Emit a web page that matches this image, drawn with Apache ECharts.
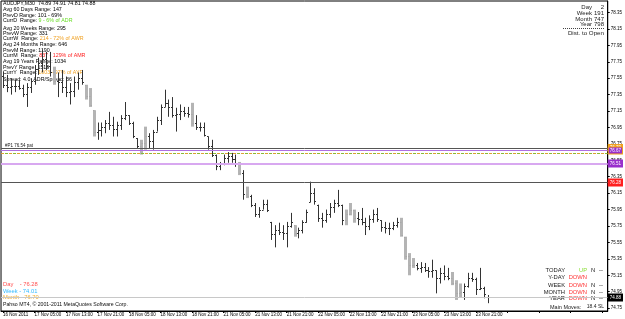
<!DOCTYPE html>
<html><head><meta charset="utf-8">
<script src="https://cdn.jsdelivr.net/npm/echarts@6/dist/echarts.min.js"></script>
<style>html,body{margin:0;padding:0;background:#fff;overflow:hidden}#c{width:625px;height:319px}</style>
</head><body><div id="c"></div>
<script>
// ---- data ----
const sessions = [['16 Nov',21,23],['17 Nov',0,23],['18 Nov',0,23],['21 Nov',0,23],['22 Nov',0,23],['23 Nov',0,23],['24 Nov',0,0]];
const xTickLabels = ['16 Nov 2011','17 Nov 05:00','17 Nov 13:00','17 Nov 21:00','18 Nov 05:00','18 Nov 13:00','18 Nov 21:00','21 Nov 05:00','21 Nov 13:00','21 Nov 21:00','22 Nov 05:00','22 Nov 13:00','22 Nov 21:00','23 Nov 05:00','23 Nov 13:00','23 Nov 21:00'];
const yTicks = [74.75,74.95,75.15,75.35,75.55,75.75,75.95,76.15,76.35,76.55,76.75,76.95,77.15,77.35,77.55,77.75,77.95,78.15,78.35];
const openP = [77.58,77.47,77.44,77.45,77.46,77.43,77.36,77.44,77.52,77.66,
77.74,77.78,77.70,77.62,77.52,77.50,77.44,77.38,77.40,77.50,
77.55,77.47,77.33,77.16,76.90,76.92,76.95,77.00,76.98,76.93,
76.98,77.06,77.10,77.00,76.82,76.73,76.76,76.85,76.78,76.90,
77.04,77.20,77.25,77.20,77.10,77.12,77.15,77.13,77.12,77.00,
76.95,76.96,76.84,76.72,76.62,76.48,76.50,76.58,76.60,76.57,
76.50,76.40,76.14,76.12,76.00,75.90,75.95,76.02,75.80,75.65,
75.70,75.68,75.66,75.75,75.76,75.66,75.70,75.80,76.04,76.15,
76.01,75.85,75.82,75.90,75.98,76.03,76.00,75.82,75.90,75.95,
75.85,75.84,75.80,75.75,75.84,75.90,75.82,75.74,75.72,75.73,
75.76,75.80,75.62,75.38,75.28,75.27,75.24,75.25,75.22,75.20,
75.21,75.12,75.18,75.14,75.12,75.06,74.93,74.95,75.02,75.12,
75.10,74.98,75.00,74.89];
const highP = [77.63,77.59,77.55,77.53,77.53,77.47,77.49,77.55,77.71,77.80,
77.90,77.87,77.87,77.69,77.62,77.65,77.57,77.49,77.57,77.62,
77.65,77.47,77.43,77.16,77.01,77.01,77.04,77.14,77.08,77.02,
77.10,77.26,77.10,77.02,76.82,76.80,76.96,76.88,76.92,77.08,
77.23,77.41,77.29,77.32,77.19,77.23,77.20,77.20,77.25,77.10,
77.01,77.01,76.84,76.80,76.62,76.53,76.62,76.65,76.64,76.62,
76.53,76.43,76.23,76.13,76.03,75.98,76.07,76.07,75.80,75.76,
75.79,75.76,75.80,75.91,75.76,75.73,75.82,75.95,76.29,76.21,
76.01,75.91,75.95,76.03,76.07,76.19,76.01,75.95,76.03,75.95,
75.92,75.97,75.85,75.88,75.95,75.97,75.82,75.80,75.79,75.80,
75.85,75.85,75.62,75.42,75.36,75.30,75.31,75.30,75.25,75.34,
75.21,75.24,75.27,75.24,75.19,75.09,75.05,75.05,75.18,75.18,
75.12,75.24,75.01,74.91];
const lowP = [77.43,77.38,77.35,77.38,77.41,77.32,77.20,77.37,77.47,77.59,
77.62,77.65,77.57,77.47,77.32,77.37,77.32,77.23,77.32,77.41,
77.47,77.29,77.20,76.84,76.80,76.84,76.88,76.92,76.84,76.84,
76.92,77.04,76.98,76.82,76.70,76.62,76.68,76.70,76.68,76.90,
76.98,77.20,77.08,77.07,76.90,77.04,77.08,77.07,76.96,76.92,
76.90,76.84,76.68,76.59,76.43,76.43,76.49,76.52,76.52,76.47,
76.37,76.07,76.09,75.98,75.86,75.85,75.95,75.92,75.58,75.49,
75.64,75.58,75.49,75.73,75.62,75.60,75.66,75.79,76.04,76.01,
75.80,75.73,75.79,75.85,75.91,75.98,75.76,75.76,75.88,75.79,
75.76,75.76,75.64,75.70,75.79,75.80,75.68,75.66,75.64,75.70,
75.73,75.62,75.34,75.15,75.24,75.21,75.18,75.19,75.12,75.12,
74.93,75.05,75.09,75.09,75.03,74.85,74.88,74.85,75.00,75.07,
74.91,74.97,74.87,74.81];
const closeP = [77.47,77.44,77.45,77.46,77.43,77.36,77.44,77.52,77.66,77.74,
77.78,77.70,77.62,77.52,77.50,77.44,77.38,77.40,77.50,77.55,
77.50,77.33,77.22,76.90,76.92,76.95,77.00,76.98,76.93,76.98,
77.06,77.10,77.00,76.85,76.73,76.76,76.85,76.78,76.90,77.04,
77.20,77.25,77.20,77.10,77.12,77.15,77.13,77.12,77.00,76.95,
76.96,76.86,76.72,76.62,76.48,76.50,76.58,76.60,76.57,76.50,
76.40,76.14,76.12,76.00,75.90,75.95,76.02,75.95,75.65,75.70,
75.68,75.66,75.75,75.80,75.66,75.70,75.80,75.92,76.15,76.05,
75.85,75.82,75.90,75.98,76.03,76.00,75.82,75.90,75.95,75.85,
75.84,75.80,75.75,75.84,75.90,75.83,75.74,75.72,75.73,75.76,
75.80,75.64,75.38,75.28,75.27,75.24,75.25,75.22,75.20,75.22,
75.12,75.18,75.14,75.12,75.06,74.93,74.95,75.02,75.12,75.10,
74.98,75.00,74.92,74.88];
const grayBars = [13,21,22,23,35,36,48,60,62,74,87,88,89,101,102,103,104,114,115,116];
const dayLevel = 76.28, weekLevel = 74.01, monthLevel = 76.70;
const pivotLevel = 76.67, dashLevel = 76.645, lowerLevel = 76.51, bidLevel = 74.88;
const futureSlots = 30;

// ---- build ----
const categories = [];
sessions.forEach(([d,h0,h1]) => { for (let h=h0; h<=h1; h++) categories.push(d+' '+String(h).padStart(2,'0')+':00'); });
const axisCats = categories.concat(Array.from({length: futureSlots}, (_, k) => 'f' + k));
const barData = categories.map((c, i) => [i, openP[i], closeP[i], lowP[i], highP[i], grayBars.includes(i) ? 1 : 0]);

const FONT = 'Liberation Sans, Arial, sans-serif';
const chart = echarts.init(document.getElementById('c'), null, {renderer: 'canvas'});

function boxLabel(bg, border) {
  return {show: true, position: 'end', distance: 1, formatter: p => p.value.toFixed(2),
    color: '#fff', backgroundColor: bg, borderColor: border || bg, borderWidth: 1,
    padding: [1, 1, 0, 1], fontSize: 4.5, fontFamily: FONT};
}

const txt = (x, y, text, opt) => Object.assign({type: 'text', x: x, y: y, silent: true,
  style: Object.assign({text: text, fill: '#000', font: '5.3px ' + FONT, textVerticalAlign: 'middle'}, opt || {})});

const leftInfo = [
  ['{k|AUDJPY,M30  74.89 74.91 74.81 74.88}', 4],
  ['{k|Avg 60 Days Range: 147}', 10],
  ['{k|PrevD Range: 101 - 69%}', 16],
  ['{k|CurrD  Range: }{g|9 - 6% of ADR}', 21],
  ['{k|Avg 20 Weeks Range: 295}', 29],
  ['{k|PrevW Range: 331}', 34],
  ['{k|CurrW  Range: }{o|214 - 72% of AWR}', 39],
  ['{k|Avg 24 Months Range: 646}', 45],
  ['{k|PrevM Range: 1190}', 51],
  ['{k|CurrM  Range: }{r|837 - 129% of AMR}', 56],
  ['{k|Avg 19 Years Range: 1034}', 62],
  ['{k|PrevY Range: 1519}', 68],
  ['{k|CurrY  Range: }{o|1003 - 97% of AYR}', 73],
  ['{k|Spread: 4.0  ADR/Spread: 36}', 80]
];
const rich = {k: {fill: '#000', font: '5.3px ' + FONT}, g: {fill: '#66dd22', font: '5.3px ' + FONT},
  o: {fill: '#f0a020', font: '5.3px ' + FONT}, r: {fill: '#ff2020', font: '5.3px ' + FONT}};

const graphics = [];
leftInfo.forEach(([t, y]) => graphics.push({type: 'text', x: 3, y: y, silent: true,
  style: {text: t, rich: rich, textVerticalAlign: 'middle', font: '5.3px ' + FONT}}));

// top right block
[['Day', '2', 7], ['Week', '191', 13], ['Month', '747', 19], ['Year', '798', 24]].forEach(([a, b, y]) => {
  graphics.push(txt(592, y, a, {textAlign: 'right', font: '6px ' + FONT, fill: '#222'}));
  graphics.push(txt(604, y, b, {textAlign: 'right', font: '6px ' + FONT, fill: '#222'}));
});
graphics.push({type: 'line', silent: true, shape: {x1: 563, y1: 28.5, x2: 604, y2: 28.5}, style: {stroke: '#444', lineWidth: 1, lineDash: [1, 1]}});
graphics.push(txt(604, 33, 'Dist. to Open', {textAlign: 'right', font: '6.2px ' + FONT, fill: '#222'}));

// bottom right table
[['TODAY', 'UP', '#88dd33', 270, true], ['Y-DAY', 'DOWN', '#ff3333', 277, false], ['WEEK', 'DOWN', '#ff3333', 285, true],
 ['MONTH', 'DOWN', '#ff3333', 292, true], ['YEAR', 'DOWN', '#ff3333', 298, true]].forEach(([a, s, c, y, n]) => {
  graphics.push(txt(565, y, a, {textAlign: 'right', font: '5.8px ' + FONT, fill: '#222'}));
  graphics.push(txt(587, y, s, {textAlign: 'right', font: '5.8px ' + FONT, fill: c}));
  if (n) {
    graphics.push(txt(591, y, 'N', {font: '5.8px ' + FONT, fill: '#222'}));
    graphics.push(txt(599, y, '--', {font: '5.8px ' + FONT, fill: '#222'}));
  }
});
graphics.push(txt(550, 307, 'Main Moves:', {font: '5.5px ' + FONT, fill: '#222'}));
graphics.push(txt(604, 307, '18.4 SL', {textAlign: 'right', font: '5px ' + FONT, fill: '#222'}));

// bottom left
graphics.push(txt(3, 284, 'Day    - ' + dayLevel.toFixed(2), {font: '5.8px ' + FONT, fill: '#ff5050'}));
graphics.push(txt(3, 291, 'Week - ' + weekLevel.toFixed(2), {font: '5.8px ' + FONT, fill: '#33bbff'}));
graphics.push(txt(3, 297, 'Month - ' + monthLevel.toFixed(2), {font: '5.8px ' + FONT, fill: '#f0b030'}));
graphics.push(txt(3, 305, 'Pahso MT4, \u00a9 2001-2011 MetaQuotes Software Corp.', {font: '5.2px ' + FONT, fill: '#111'}));
graphics.push(txt(5, 146, '#P1 76.54 pat', {font: '4.5px ' + FONT, fill: '#222'}));

chart.setOption({
  animation: false,
  backgroundColor: '#fff',
  grid: {left: 1, right: 17, top: 1, bottom: 8, show: true, borderColor: '#000', borderWidth: 1, containLabel: false},
  xAxis: {type: 'category', data: axisCats, boundaryGap: true,
    axisLine: {show: true, lineStyle: {color: '#000', width: 1}},
    axisTick: {show: true, interval: 7, alignWithLabel: true, length: 2, lineStyle: {color: '#000'}},
    axisLabel: {interval: 7, align: 'left', margin: 1, fontSize: 4.5, fontFamily: FONT, color: '#000',
      formatter: (v, i) => xTickLabels[i / 8] || ''},
    splitLine: {show: false}},
  yAxis: {type: 'value', position: 'right', min: 74.715, max: 78.49, scale: true,
    axisLine: {show: true, lineStyle: {color: '#000'}},
    axisTick: {show: true, length: 2, customValues: yTicks, lineStyle: {color: '#000'}},
    axisLabel: {customValues: yTicks, formatter: v => v.toFixed(2), fontSize: 4.5, fontFamily: FONT, color: '#000', margin: 3},
    splitLine: {show: false}},
  graphic: graphics,
  series: [
    {type: 'line', data: [], silent: true, markLine: {symbol: 'none', silent: true, animation: false,
      data: [
        {yAxis: dashLevel, lineStyle: {color: '#e0a030', width: 1, type: [3, 5]}, label: {show: false}},
        {yAxis: dashLevel, lineStyle: {color: '#88bb33', width: 1, type: [3, 5], dashOffset: 4}, label: {show: false}},
        {yAxis: monthLevel, lineStyle: {color: '#555', width: 1, type: 'solid'}, label: boxLabel('#f0a020')},
        {yAxis: pivotLevel, lineStyle: {color: '#b070e0', width: 1, type: 'solid'}, label: boxLabel('#9930cc', '#f0a020')},
        {yAxis: lowerLevel, lineStyle: {color: '#d8a8f0', width: 2, type: 'solid'}, label: boxLabel('#9930cc')},
        {yAxis: dayLevel, lineStyle: {color: '#555', width: 1, type: 'solid'}, label: boxLabel('#ff2020')},
        {yAxis: bidLevel, lineStyle: {color: '#c8c8c8', width: 1, type: 'solid'}, label: boxLabel('#000')}
      ]}},
    {type: 'custom', data: barData, encode: {x: 0, y: [1, 2, 3, 4]}, silent: true,
      renderItem: function (params, api) {
        const i = api.value(0);
        const hi = api.coord([i, api.value(4)]);
        const lo = api.coord([i, api.value(3)]);
        const op = api.coord([i, api.value(1)]);
        const cl = api.coord([i, api.value(2)]);
        const x = Math.round(hi[0]) + 0.5;
        const gray = api.value(5) === 1;
        const col = gray ? '#a8a8a8' : '#333';
        const oy = Math.round(op[1]) + 0.5, cy = Math.round(cl[1]) + 0.5;
        const ch = [];
        if (gray) ch.push({type: 'rect', shape: {x: x - 1.5, y: hi[1], width: 3, height: lo[1] - hi[1]}, style: {fill: '#b4b4b4'}});
        else ch.push({type: 'line', shape: {x1: x, y1: hi[1], x2: x, y2: lo[1]}, style: {stroke: col, lineWidth: 1}});
        ch.push({type: 'line', shape: {x1: x - 1.5, y1: oy, x2: x, y2: oy}, style: {stroke: col, lineWidth: 1}});
        ch.push({type: 'line', shape: {x1: x, y1: cy, x2: x + 1.5, y2: cy}, style: {stroke: col, lineWidth: 1}});
        return {type: 'group', children: ch};
      }}
  ]
});
</script></body></html>
